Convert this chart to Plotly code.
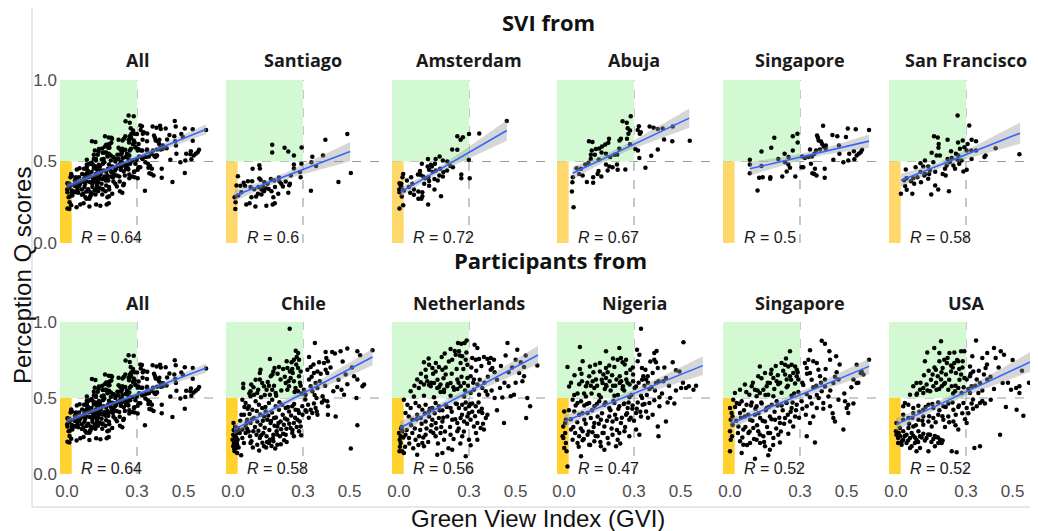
import numpy as np
import plotly.graph_objects as go

# target picture size and the page offset of the figure inside the browser page
W, H = 1038, 531
OFF = 8
FW, FH = W - OFF, H - OFF

# ---------------- data (GVI, perception Q score) ----------------
santiago = [(0.49,0.668),(0.396,0.633),(0.168,0.602),(0.168,0.555),(0.221,0.584),(0.237,0.561),(0.294,0.586),(0.261,0.537),(0.386,0.537),(0.34,0.529),(0.336,0.496),(0.356,0.473),(0.293,0.486),(0.505,0.43),(0.452,0.375),(0.334,0.32),(0.261,0.482),(0.261,0.457),(0.287,0.435),(0.29,0.404),(0.248,0.414),(0.244,0.363),(0.237,0.308),(0.084,0.455),(0.113,0.477),(0.115,0.457),(0.021,0.41),(0.064,0.379),(0.082,0.379),(0.046,0.369),(0.015,0.353),(0.032,0.351),(0.052,0.349),(0.113,0.396),(0.118,0.388),(0.134,0.373),(0.109,0.343),(0.122,0.328),(0.148,0.363),(0.162,0.392),(0.177,0.383),(0.18,0.343),(0.197,0.402),(0.207,0.363),(0.214,0.347),(0.194,0.302),(0.173,0.281),(0.179,0.244),(0.17,0.236),(0.143,0.228),(0.096,0.224),(0.057,0.236),(0.071,0.244),(0.079,0.281),(0.099,0.285),(0.107,0.302),(0.122,0.298),(0.133,0.318),(0.007,0.281),(0.011,0.25),(0.01,0.208),(0.023,0.292),(0.036,0.312),(0.153,0.332),(0.165,0.318),(0.141,0.336),(0.199,0.377),(0.226,0.377),(0.241,0.355),(0.13,0.343),(0.091,0.33),(0.075,0.343)]

amsterdam = [(0.462,0.749),(0.344,0.672),(0.3,0.668),(0.274,0.649),(0.264,0.633),(0.25,0.655),(0.228,0.574),(0.25,0.572),(0.299,0.51),(0.174,0.531),(0.157,0.516),(0.124,0.516),(0.154,0.486),(0.137,0.48),(0.123,0.469),(0.188,0.506),(0.207,0.5),(0.098,0.486),(0.09,0.441),(0.081,0.42),(0.092,0.418),(0.104,0.408),(0.112,0.398),(0.126,0.404),(0.145,0.435),(0.158,0.445),(0.176,0.455),(0.19,0.435),(0.206,0.445),(0.188,0.408),(0.173,0.414),(0.152,0.392),(0.166,0.383),(0.267,0.42),(0.267,0.398),(0.303,0.398),(0.129,0.381),(0.129,0.351),(0.108,0.363),(0.152,0.328),(0.18,0.287),(0.125,0.236),(0.1,0.312),(0.1,0.287),(0.083,0.316),(0.083,0.271),(0.096,0.271),(0.064,0.296),(0.048,0.308),(0.064,0.328),(0.042,0.343),(0.057,0.363),(0.034,0.383),(0.052,0.404),(0.018,0.424),(0.015,0.404),(0.002,0.367),(0.007,0.353),(0.01,0.343),(0.002,0.312),(0.012,0.285),(0.018,0.232),(0.002,0.212),(0.021,0.322),(0.001,0.328),(0.01,0.363),(0.22,0.473),(0.231,0.465),(0.129,0.449),(0.141,0.469)]

abuja = [(0.286,0.778),(0.251,0.747),(0.269,0.737),(0.273,0.704),(0.283,0.69),(0.276,0.67),(0.27,0.639),(0.244,0.639),(0.321,0.717),(0.329,0.68),(0.325,0.67),(0.316,0.694),(0.367,0.715),(0.384,0.707),(0.402,0.7),(0.423,0.702),(0.466,0.715),(0.429,0.635),(0.464,0.625),(0.539,0.627),(0.402,0.574),(0.374,0.535),(0.349,0.461),(0.323,0.522),(0.317,0.567),(0.306,0.576),(0.283,0.606),(0.238,0.629),(0.193,0.639),(0.19,0.615),(0.177,0.604),(0.163,0.592),(0.151,0.58),(0.161,0.555),(0.137,0.576),(0.119,0.567),(0.107,0.625),(0.122,0.619),(0.115,0.541),(0.132,0.541),(0.149,0.512),(0.18,0.547),(0.198,0.527),(0.216,0.541),(0.237,0.578),(0.228,0.543),(0.115,0.516),(0.105,0.492),(0.091,0.482),(0.073,0.455),(0.054,0.459),(0.065,0.424),(0.08,0.414),(0.038,0.404),(0.036,0.373),(0.034,0.316),(0.041,0.22),(0.098,0.375),(0.125,0.369),(0.125,0.404),(0.144,0.424),(0.16,0.408),(0.148,0.441),(0.18,0.482),(0.194,0.469),(0.208,0.465),(0.227,0.482),(0.23,0.449),(0.263,0.451),(0.187,0.445)]

singapore_svi = [(0.399,0.719),(0.505,0.702),(0.539,0.698),(0.596,0.694),(0.439,0.662),(0.46,0.655),(0.497,0.651),(0.373,0.66),(0.377,0.645),(0.38,0.629),(0.39,0.623),(0.395,0.608),(0.402,0.592),(0.411,0.598),(0.41,0.578),(0.386,0.574),(0.369,0.567),(0.343,0.574),(0.362,0.547),(0.351,0.531),(0.336,0.527),(0.321,0.522),(0.309,0.531),(0.29,0.617),(0.289,0.67),(0.269,0.655),(0.19,0.645),(0.177,0.584),(0.135,0.561),(0.269,0.567),(0.234,0.547),(0.251,0.527),(0.207,0.516),(0.085,0.51),(0.085,0.482),(0.085,0.428),(0.135,0.473),(0.236,0.496),(0.25,0.482),(0.257,0.461),(0.243,0.439),(0.224,0.408),(0.28,0.408),(0.307,0.465),(0.314,0.465),(0.347,0.486),(0.364,0.455),(0.353,0.428),(0.361,0.424),(0.371,0.414),(0.406,0.455),(0.406,0.4),(0.443,0.51),(0.469,0.547),(0.486,0.496),(0.507,0.506),(0.511,0.547),(0.531,0.563),(0.543,0.537),(0.533,0.514),(0.552,0.547),(0.566,0.572),(0.56,0.557),(0.467,0.598),(0.173,0.404),(0.172,0.394),(0.14,0.404),(0.125,0.4),(0.118,0.322)]

san_francisco = [(0.264,0.782),(0.314,0.721),(0.324,0.633),(0.343,0.625),(0.307,0.608),(0.427,0.582),(0.529,0.545),(0.221,0.633),(0.266,0.617),(0.286,0.629),(0.274,0.578),(0.293,0.588),(0.303,0.567),(0.323,0.567),(0.343,0.567),(0.163,0.655),(0.179,0.647),(0.183,0.608),(0.182,0.584),(0.188,0.537),(0.174,0.537),(0.153,0.553),(0.16,0.496),(0.236,0.563),(0.257,0.547),(0.267,0.537),(0.239,0.522),(0.221,0.516),(0.231,0.496),(0.217,0.475),(0.21,0.455),(0.246,0.475),(0.253,0.455),(0.271,0.486),(0.264,0.51),(0.281,0.506),(0.289,0.439),(0.303,0.449),(0.324,0.516),(0.379,0.527),(0.384,0.537),(0.124,0.506),(0.105,0.49),(0.084,0.465),(0.117,0.469),(0.138,0.469),(0.145,0.445),(0.168,0.437),(0.2,0.424),(0.213,0.414),(0.142,0.424),(0.124,0.424),(0.105,0.435),(0.092,0.404),(0.074,0.398),(0.064,0.379),(0.078,0.363),(0.042,0.451),(0.045,0.398),(0.035,0.385),(0.039,0.349),(0.046,0.326),(0.021,0.302),(0.07,0.302),(0.107,0.373),(0.138,0.394),(0.168,0.353),(0.181,0.328),(0.151,0.298),(0.227,0.318),(0.121,0.414)]

chile = [(0.243,0.956),(0.351,0.862),(0.49,0.825),(0.598,0.814),(0.397,0.803),(0.425,0.803),(0.437,0.792),(0.461,0.807),(0.533,0.807),(0.545,0.781),(0.326,0.77),(0.269,0.811),(0.279,0.796),(0.273,0.77),(0.261,0.752),(0.283,0.752),(0.158,0.757),(0.251,0.735),(0.23,0.741),(0.4,0.763),(0.407,0.741),(0.39,0.73),(0.369,0.735),(0.197,0.704),(0.178,0.697),(0.173,0.675),(0.169,0.654),(0.162,0.643),(0.118,0.686),(0.115,0.664),(0.233,0.697),(0.244,0.675),(0.254,0.691),(0.279,0.697),(0.29,0.675),(0.283,0.643),(0.319,0.686),(0.333,0.704),(0.347,0.664),(0.362,0.675),(0.376,0.66),(0.397,0.686),(0.404,0.664),(0.483,0.654),(0.519,0.643),(0.533,0.621),(0.562,0.588),(0.555,0.577),(0.447,0.572),(0.465,0.555),(0.476,0.522),(0.529,0.5),(0.533,0.32),(0.505,0.167),(0.044,0.594),(0.044,0.566),(0.078,0.588),(0.075,0.544),(0.115,0.621),(0.125,0.599),(0.133,0.577),(0.144,0.555),(0.104,0.533),(0.09,0.522),(0.075,0.511),(0.154,0.581),(0.168,0.555),(0.183,0.533),(0.158,0.522),(0.204,0.621),(0.226,0.599),(0.24,0.577),(0.233,0.555),(0.247,0.632),(0.261,0.61),(0.268,0.566),(0.279,0.544),(0.29,0.581),(0.304,0.555),(0.311,0.522),(0.326,0.621),(0.333,0.577),(0.34,0.544),(0.354,0.599),(0.362,0.566),(0.384,0.511),(0.39,0.485),(0.404,0.478),(0.407,0.445),(0.347,0.463),(0.354,0.434),(0.359,0.412),(0.362,0.39),(0.333,0.423),(0.34,0.401),(0.407,0.39),(0.44,0.379),(0.04,0.489),(0.054,0.467),(0.068,0.445),(0.083,0.423),(0.097,0.478),(0.111,0.456),(0.125,0.434),(0.14,0.412),(0.154,0.467),(0.168,0.489),(0.183,0.445),(0.197,0.423),(0.211,0.456),(0.226,0.434),(0.24,0.412),(0.254,0.445),(0.268,0.423),(0.283,0.401),(0.297,0.445),(0.311,0.419),(0.047,0.39),(0.061,0.357),(0.075,0.335),(0.09,0.368),(0.104,0.346),(0.118,0.324),(0.133,0.379),(0.147,0.357),(0.161,0.335),(0.176,0.368),(0.19,0.313),(0.204,0.346),(0.218,0.324),(0.233,0.357),(0.247,0.302),(0.261,0.335),(0.276,0.357),(0.29,0.313),(0.04,0.292),(0.054,0.27),(0.073,0.248),(0.087,0.281),(0.101,0.259),(0.115,0.237),(0.13,0.27),(0.144,0.248),(0.158,0.226),(0.173,0.259),(0.187,0.281),(0.201,0.248),(0.226,0.259),(0.254,0.27),(0.283,0.281),(0.075,0.204),(0.104,0.193),(0.133,0.182),(0.154,0.204),(0.173,0.215),(0.19,0.193),(0.23,0.211),(0.261,0.248),(0.001,0.259),(0.007,0.248),(0.015,0.237),(-0.002,0.226),(0.011,0.215),(0.004,0.2),(0.018,0.193),(0.001,0.182),(0.012,0.171),(0.007,0.149),(0.018,0.138),(0.035,0.123),(0.025,0.281),(0.021,0.302),(0.011,0.281),(0.029,0.27),(0.04,0.237),(0.047,0.204),(0.054,0.313),(0.061,0.296)]
chile += [(0.063,0.43),(0.071,0.395),(0.082,0.36),(0.094,0.31),(0.102,0.415),(0.109,0.285),(0.117,0.392),(0.121,0.255),(0.128,0.35),(0.136,0.305),(0.139,0.44),(0.146,0.21),(0.151,0.385),(0.156,0.29),(0.163,0.348),(0.167,0.405),(0.171,0.235),(0.178,0.318),(0.184,0.372),(0.189,0.26),(0.195,0.335),(0.199,0.472),(0.206,0.295),(0.213,0.39),(0.219,0.222),(0.223,0.365),(0.229,0.298),(0.236,0.44),(0.241,0.33),(0.249,0.385),(0.255,0.29),(0.262,0.46),(0.266,0.37),(0.273,0.31),(0.279,0.42),(0.286,0.345),(0.292,0.255),(0.298,0.39),(0.085,0.175),(0.112,0.155),(0.126,0.205),(0.142,0.175),(0.165,0.185),(0.181,0.168),(0.205,0.195),(0.215,0.265),(0.058,0.335),(0.067,0.28),(0.079,0.215),(0.036,0.39),(0.049,0.44),(0.031,0.35),(0.003,0.29),(0.009,0.31),(0.014,0.265),(0.02,0.225),(0.005,0.165),(0.016,0.205),(0.024,0.175),(0.002,0.335),(0.01,0.195),(0.07,0.53),(0.088,0.57),(0.097,0.62),(0.108,0.555),(0.136,0.52),(0.149,0.605),(0.176,0.58),(0.191,0.66),(0.207,0.55),(0.215,0.69),(0.222,0.64),(0.238,0.61),(0.256,0.665),(0.264,0.54),(0.271,0.72),(0.287,0.6),(0.294,0.53),(0.185,0.515),(0.12,0.505),(0.31,0.49),(0.322,0.455),(0.337,0.64),(0.345,0.72),(0.358,0.5),(0.372,0.61),(0.381,0.47),(0.395,0.58),(0.418,0.7),(0.43,0.545),(0.452,0.62),(0.47,0.74),(0.49,0.59),(0.51,0.7),(0.325,0.37),(0.315,0.41),(0.35,0.52)]

netherlands = [(0.29,0.879),(0.253,0.862),(0.267,0.857),(0.281,0.862),(0.324,0.851),(0.336,0.829),(0.465,0.862),(0.507,0.818),(0.457,0.779),(0.543,0.779),(0.593,0.713),(0.196,0.792),(0.221,0.822),(0.228,0.752),(0.243,0.785),(0.257,0.807),(0.271,0.774),(0.286,0.752),(0.264,0.73),(0.293,0.719),(0.314,0.763),(0.329,0.752),(0.343,0.757),(0.364,0.77),(0.379,0.757),(0.393,0.763),(0.407,0.752),(0.386,0.73),(0.4,0.697),(0.393,0.686),(0.41,0.669),(0.5,0.752),(0.522,0.735),(0.536,0.704),(0.515,0.664),(0.536,0.643),(0.529,0.61),(0.562,0.445),(0.545,0.368),(0.45,0.336),(0.469,0.577),(0.433,0.566),(0.443,0.504),(0.479,0.511),(0.493,0.522),(0.107,0.735),(0.114,0.686),(0.129,0.719),(0.143,0.697),(0.157,0.675),(0.171,0.704),(0.186,0.686),(0.2,0.654),(0.078,0.621),(0.093,0.603),(0.107,0.588),(0.121,0.61),(0.136,0.577),(0.15,0.599),(0.164,0.566),(0.178,0.588),(0.193,0.555),(0.207,0.577),(0.221,0.599),(0.236,0.555),(0.25,0.621),(0.264,0.577),(0.279,0.599),(0.293,0.632),(0.307,0.643),(0.321,0.621),(0.336,0.588),(0.357,0.566),(0.372,0.544),(0.379,0.522),(0.321,0.555),(0.307,0.533),(0.343,0.522),(0.05,0.545),(0.064,0.51),(0.085,0.565),(0.107,0.515),(0.129,0.585),(0.15,0.505),(0.171,0.57),(0.193,0.54),(0.221,0.515),(0.25,0.56),(0.279,0.51),(0.021,0.489),(0.036,0.456),(0.05,0.434),(0.071,0.467),(0.086,0.445),(0.1,0.423),(0.114,0.456),(0.129,0.412),(0.143,0.434),(0.157,0.467),(0.171,0.445),(0.186,0.419),(0.2,0.456),(0.221,0.434),(0.243,0.463),(0.257,0.434),(0.271,0.456),(0.286,0.471),(0.3,0.445),(0.314,0.463),(0.329,0.445),(0.343,0.412),(0.357,0.401),(0.379,0.39),(0.372,0.368),(0.028,0.401),(0.042,0.379),(0.057,0.357),(0.078,0.39),(0.093,0.368),(0.114,0.346),(0.129,0.379),(0.143,0.357),(0.157,0.335),(0.171,0.368),(0.186,0.346),(0.207,0.379),(0.228,0.357),(0.25,0.335),(0.264,0.368),(0.279,0.346),(0.293,0.379),(0.307,0.357),(0.321,0.313),(0.336,0.335),(0.014,0.281),(0.028,0.259),(0.043,0.237),(0.057,0.27),(0.071,0.226),(0.086,0.248),(0.1,0.204),(0.114,0.259),(0.136,0.281),(0.157,0.248),(0.178,0.27),(0.193,0.226),(0.221,0.259),(0.25,0.281),(0.271,0.248),(0.3,0.226),(0.307,0.189),(0.336,0.226),(0.35,0.302),(0.364,0.292),(0.007,0.204),(0.014,0.149),(0.021,0.138),(0.078,0.127),(0.107,0.182),(0.164,0.127),(0.186,0.138),(0.228,0.16),(0.286,0.116),(0.0,0.27),(0.007,0.248),(0.003,0.226)]
netherlands += [(0.012,0.31),(0.019,0.24),(0.026,0.18),(0.033,0.29),(0.044,0.2),(0.052,0.32),(0.061,0.17),(0.068,0.3),(0.075,0.36),(0.083,0.19),(0.091,0.29),(0.097,0.33),(0.104,0.24),(0.111,0.4),(0.118,0.3),(0.125,0.21),(0.132,0.43),(0.139,0.32),(0.147,0.27),(0.153,0.4),(0.16,0.3),(0.167,0.2),(0.174,0.42),(0.181,0.31),(0.19,0.37),(0.197,0.28),(0.205,0.44),(0.212,0.17),(0.219,0.31),(0.226,0.41),(0.234,0.23),(0.241,0.36),(0.248,0.46),(0.256,0.3),(0.263,0.2),(0.27,0.39),(0.278,0.28),(0.285,0.43),(0.292,0.33),(0.299,0.4),(0.305,0.46),(0.314,0.41),(0.326,0.38),(0.341,0.47),(0.355,0.43),(0.004,0.18),(0.009,0.3),(0.002,0.15),(0.116,0.64),(0.127,0.76),(0.138,0.6),(0.146,0.66),(0.158,0.73),(0.165,0.62),(0.178,0.54),(0.183,0.77),(0.191,0.63),(0.2,0.7),(0.208,0.59),(0.214,0.74),(0.226,0.66),(0.233,0.57),(0.239,0.81),(0.247,0.69),(0.255,0.6),(0.261,0.78),(0.268,0.64),(0.276,0.69),(0.283,0.55),(0.289,0.8),(0.296,0.58),(0.094,0.66),(0.066,0.58),(0.31,0.7),(0.318,0.6),(0.331,0.68),(0.346,0.62),(0.353,0.71),(0.366,0.6),(0.381,0.64),(0.397,0.55),(0.41,0.5),(0.42,0.62),(0.437,0.71),(0.452,0.6),(0.47,0.67),(0.485,0.7),(0.5,0.6),(0.55,0.5),(0.42,0.42),(0.36,0.33),(0.33,0.27)]

nigeria = [(0.33,0.956),(0.512,0.866),(0.068,0.836),(0.18,0.807),(0.237,0.829),(0.244,0.763),(0.23,0.752),(0.251,0.735),(0.266,0.752),(0.313,0.818),(0.323,0.785),(0.316,0.741),(0.334,0.697),(0.349,0.686),(0.352,0.621),(0.359,0.643),(0.34,0.643),(0.387,0.796),(0.397,0.809),(0.387,0.752),(0.394,0.735),(0.402,0.697),(0.38,0.664),(0.466,0.735),(0.48,0.682),(0.495,0.675),(0.437,0.632),(0.426,0.61),(0.394,0.599),(0.502,0.566),(0.523,0.566),(0.535,0.577),(0.555,0.555),(0.566,0.581),(0.015,0.704),(0.068,0.691),(0.08,0.741),(0.111,0.708),(0.134,0.719),(0.154,0.73),(0.18,0.697),(0.194,0.713),(0.216,0.704),(0.154,0.675),(0.169,0.654),(0.18,0.632),(0.137,0.621),(0.108,0.643),(0.123,0.61),(0.077,0.61),(0.094,0.577),(0.115,0.581),(0.165,0.599),(0.182,0.577),(0.196,0.61),(0.21,0.581),(0.225,0.621),(0.239,0.599),(0.253,0.577),(0.267,0.621),(0.281,0.588),(0.296,0.61),(0.303,0.566),(0.239,0.643),(0.267,0.664),(0.296,0.654),(0.284,0.686),(0.022,0.575),(0.044,0.52),(0.065,0.59),(0.094,0.51),(0.13,0.565),(0.158,0.505),(0.18,0.585),(0.216,0.515),(0.251,0.56),(0.28,0.505),(0.309,0.575),(0.33,0.515),(0.366,0.56),(0.409,0.505),(0.037,0.489),(0.058,0.467),(0.073,0.478),(0.087,0.45),(0.108,0.467),(0.13,0.445),(0.151,0.478),(0.173,0.456),(0.194,0.434),(0.216,0.467),(0.237,0.445),(0.259,0.463),(0.273,0.434),(0.294,0.45),(0.316,0.471),(0.337,0.456),(0.366,0.467),(0.387,0.485),(0.409,0.445),(0.444,0.471),(0.473,0.463),(0.044,0.412),(0.065,0.39),(0.087,0.357),(0.101,0.401),(0.115,0.368),(0.13,0.335),(0.144,0.379),(0.158,0.357),(0.173,0.313),(0.194,0.379),(0.208,0.346),(0.225,0.362),(0.244,0.335),(0.266,0.39),(0.28,0.357),(0.309,0.401),(0.33,0.379),(0.352,0.412),(0.38,0.39),(0.402,0.313),(0.437,0.346),(0.405,0.248),(0.03,0.292),(0.048,0.27),(0.065,0.248),(0.08,0.281),(0.101,0.259),(0.122,0.274),(0.144,0.248),(0.165,0.27),(0.187,0.237),(0.208,0.259),(0.237,0.27),(0.259,0.281),(0.28,0.248),(0.309,0.292),(0.323,0.259),(0.037,0.226),(0.058,0.204),(0.08,0.222),(0.108,0.193),(0.13,0.215),(0.158,0.182),(0.173,0.16),(0.223,0.182),(0.23,0.226),(0.073,0.116),(0.015,0.05),(0.001,0.412),(0.008,0.357),(-0.003,0.313),(0.005,0.27),(-0.003,0.237),(0.008,0.204),(0.001,0.171),(0.011,0.149),(-0.006,0.248),(0.005,0.335)]
nigeria += [(0.021,0.42),(0.029,0.36),(0.04,0.31),(0.05,0.45),(0.057,0.34),(0.063,0.18),(0.072,0.3),(0.079,0.4),(0.085,0.23),(0.093,0.33),(0.099,0.46),(0.106,0.28),(0.112,0.19),(0.12,0.42),(0.127,0.31),(0.135,0.25),(0.141,0.46),(0.149,0.33),(0.156,0.21),(0.163,0.4),(0.17,0.27),(0.178,0.47),(0.184,0.35),(0.191,0.2),(0.199,0.42),(0.204,0.3),(0.212,0.48),(0.219,0.39),(0.227,0.29),(0.233,0.43),(0.241,0.2),(0.248,0.37),(0.256,0.46),(0.262,0.31),(0.27,0.4),(0.277,0.47),(0.286,0.37),(0.293,0.43),(0.3,0.35),(0.312,0.43),(0.327,0.41),(0.345,0.46),(0.36,0.37),(0.03,0.6),(0.045,0.65),(0.058,0.53),(0.075,0.66),(0.086,0.53),(0.1,0.6),(0.118,0.53),(0.126,0.67),(0.142,0.58),(0.15,0.52),(0.162,0.62),(0.175,0.56),(0.187,0.67),(0.2,0.55),(0.206,0.65),(0.22,0.58),(0.231,0.52),(0.245,0.61),(0.258,0.55),(0.272,0.6),(0.289,0.52),(0.295,0.7),(0.26,0.72),(0.21,0.76),(0.32,0.6),(0.335,0.62),(0.345,0.58),(0.36,0.6),(0.375,0.57),(0.39,0.55),(0.405,0.61),(0.42,0.53),(0.45,0.58),(0.48,0.55),(0.51,0.6),(0.335,0.5),(0.355,0.52),(0.37,0.74),(0.43,0.7),(0.455,0.5)]

singapore_part = [(0.393,0.877),(0.407,0.857),(0.343,0.814),(0.257,0.807),(0.426,0.807),(0.455,0.774),(0.429,0.752),(0.596,0.752),(0.543,0.719),(0.56,0.664),(0.529,0.621),(0.543,0.599),(0.572,0.654),(0.564,0.675),(0.457,0.669),(0.465,0.621),(0.443,0.599),(0.407,0.621),(0.386,0.643),(0.379,0.686),(0.372,0.73),(0.357,0.741),(0.336,0.752),(0.321,0.73),(0.329,0.697),(0.343,0.664),(0.128,0.708),(0.15,0.664),(0.121,0.643),(0.178,0.686),(0.186,0.632),(0.2,0.61),(0.171,0.599),(0.157,0.577),(0.143,0.555),(0.128,0.533),(0.221,0.73),(0.236,0.719),(0.25,0.708),(0.264,0.719),(0.279,0.708),(0.286,0.686),(0.271,0.664),(0.257,0.643),(0.243,0.621),(0.236,0.654),(0.286,0.643),(0.293,0.621),(0.064,0.588),(0.093,0.577),(0.107,0.555),(0.083,0.522),(0.021,0.533),(0.043,0.555),(0.207,0.59),(0.221,0.535),(0.243,0.57),(0.264,0.515),(0.279,0.595),(0.293,0.54),(0.314,0.585),(0.329,0.525),(0.343,0.505),(0.357,0.57),(0.372,0.52),(0.393,0.545),(0.407,0.575),(0.422,0.51),(0.164,0.522),(0.186,0.511),(0.114,0.511),(0.014,0.489),(0.029,0.467),(0.05,0.478),(0.071,0.456),(0.093,0.471),(0.114,0.445),(0.136,0.463),(0.157,0.434),(0.179,0.456),(0.2,0.478),(0.221,0.45),(0.243,0.467),(0.264,0.434),(0.286,0.456),(0.307,0.478),(0.329,0.445),(0.35,0.463),(0.372,0.434),(0.4,0.467),(0.429,0.445),(0.465,0.489),(0.493,0.478),(0.507,0.456),(0.529,0.463),(0.043,0.401),(0.064,0.379),(0.086,0.357),(0.107,0.39),(0.129,0.368),(0.15,0.346),(0.171,0.379),(0.193,0.357),(0.214,0.335),(0.236,0.368),(0.257,0.346),(0.279,0.379),(0.343,0.335),(0.357,0.379),(0.443,0.368),(0.45,0.346),(0.486,0.292),(0.5,0.434),(0.507,0.401),(0.036,0.313),(0.057,0.292),(0.079,0.27),(0.1,0.302),(0.121,0.281),(0.143,0.248),(0.164,0.27),(0.186,0.237),(0.207,0.259),(0.25,0.265),(0.271,0.313),(0.329,0.248),(0.043,0.215),(0.057,0.193),(0.086,0.204),(0.114,0.226),(0.129,0.204),(0.15,0.182),(0.171,0.16),(0.214,0.208),(0.164,0.123),(0.05,0.138),(0.107,0.101),(0.364,0.208),(0.0,0.434),(0.007,0.401),(0.003,0.357),(0.011,0.324),(0.0,0.281),(0.009,0.248),(0.003,0.226),(0.0,0.149),(0.011,0.379)]
singapore_part += [(0.022,0.44),(0.027,0.35),(0.034,0.27),(0.04,0.46),(0.047,0.37),(0.053,0.24),(0.06,0.42),(0.066,0.31),(0.073,0.19),(0.078,0.39),(0.084,0.28),(0.09,0.45),(0.096,0.35),(0.103,0.23),(0.109,0.43),(0.116,0.32),(0.122,0.4),(0.128,0.26),(0.134,0.47),(0.14,0.35),(0.146,0.21),(0.153,0.42),(0.159,0.31),(0.166,0.44),(0.172,0.27),(0.178,0.36),(0.185,0.19),(0.191,0.41),(0.198,0.3),(0.204,0.45),(0.211,0.37),(0.218,0.28),(0.226,0.42),(0.232,0.33),(0.24,0.47),(0.248,0.39),(0.26,0.41),(0.268,0.47),(0.283,0.42),(0.296,0.37),(0.31,0.43),(0.325,0.39),(0.07,0.54),(0.098,0.6),(0.118,0.55),(0.135,0.63),(0.152,0.52),(0.162,0.6),(0.175,0.66),(0.19,0.56),(0.205,0.65),(0.215,0.6),(0.228,0.68),(0.248,0.58),(0.262,0.62),(0.275,0.53),(0.29,0.67),(0.196,0.71),(0.24,0.76),(0.31,0.6),(0.33,0.66),(0.35,0.62),(0.37,0.58),(0.39,0.6),(0.41,0.69),(0.43,0.55),(0.45,0.64),(0.47,0.72),(0.49,0.53),(0.52,0.57),(0.55,0.6),(0.4,0.43),(0.44,0.4),(0.38,0.5)]

usa = [(0.193,0.873),(0.343,0.879),(0.164,0.829),(0.186,0.796),(0.134,0.8),(0.124,0.741),(0.229,0.796),(0.25,0.8),(0.279,0.807),(0.293,0.807),(0.267,0.741),(0.271,0.691),(0.286,0.741),(0.25,0.73),(0.236,0.713),(0.221,0.763),(0.207,0.752),(0.186,0.741),(0.2,0.697),(0.171,0.686),(0.157,0.654),(0.179,0.643),(0.193,0.621),(0.214,0.654),(0.236,0.675),(0.257,0.664),(0.279,0.654),(0.293,0.632),(0.327,0.774),(0.37,0.763),(0.391,0.796),(0.42,0.829),(0.449,0.807),(0.463,0.785),(0.427,0.763),(0.384,0.697),(0.377,0.654),(0.391,0.621),(0.457,0.599),(0.493,0.555),(0.515,0.566),(0.529,0.577),(0.529,0.533),(0.586,0.537),(0.317,0.708),(0.331,0.675),(0.317,0.643),(0.303,0.621),(0.346,0.621),(0.36,0.599),(0.324,0.577),(0.317,0.533),(0.353,0.533),(0.074,0.577),(0.088,0.599),(0.103,0.555),(0.117,0.566),(0.131,0.588),(0.146,0.544),(0.16,0.577),(0.174,0.555),(0.196,0.577),(0.21,0.599),(0.224,0.555),(0.239,0.577),(0.253,0.544),(0.267,0.566),(0.281,0.533),(0.117,0.533),(0.088,0.522),(0.038,0.467),(0.06,0.522),(0.031,0.445),(0.053,0.456),(0.074,0.434),(0.096,0.449),(0.117,0.423),(0.139,0.456),(0.16,0.434),(0.181,0.471),(0.203,0.445),(0.224,0.463),(0.246,0.423),(0.267,0.441),(0.289,0.467),(0.303,0.434),(0.324,0.463),(0.346,0.445),(0.36,0.467),(0.381,0.463),(0.406,0.489),(0.471,0.441),(0.517,0.423),(0.546,0.384),(0.446,0.259),(0.36,0.182),(0.336,0.171),(0.031,0.39),(0.053,0.368),(0.074,0.401),(0.096,0.357),(0.117,0.379),(0.139,0.346),(0.16,0.368),(0.181,0.39),(0.203,0.357),(0.224,0.379),(0.246,0.346),(0.267,0.292),(0.303,0.335),(0.117,0.324),(0.153,0.313),(0.031,0.357),(0.002,0.259),(0.009,0.237),(0.019,0.248),(0.031,0.226),(0.045,0.259),(0.06,0.237),(0.074,0.252),(0.088,0.226),(0.103,0.248),(0.117,0.265),(0.131,0.237),(0.146,0.259),(0.16,0.23),(0.174,0.244),(0.189,0.226),(0.196,0.204),(0.181,0.204),(0.167,0.182),(0.009,0.204),(0.024,0.193),(0.045,0.204),(0.067,0.182),(0.088,0.149),(0.103,0.171),(0.139,0.149),(0.239,0.149),(0.26,0.143),(0.06,0.171),(0.081,0.204),(0.002,0.335),(0.017,0.302),(0.031,0.281),(0.053,0.302),(0.074,0.313),(0.096,0.281),(0.0,0.281)]
usa += [(0.012,0.27),(0.025,0.215),(0.038,0.25),(0.052,0.22),(0.067,0.27),(0.081,0.24),(0.095,0.21),(0.11,0.24),(0.124,0.22),(0.138,0.26),(0.152,0.21),(0.166,0.25),(0.18,0.24),(0.2,0.22),(0.056,0.33),(0.07,0.37),(0.085,0.32),(0.1,0.41),(0.113,0.35),(0.127,0.44),(0.142,0.38),(0.156,0.46),(0.17,0.34),(0.186,0.42),(0.199,0.38),(0.213,0.44),(0.228,0.34),(0.242,0.47),(0.256,0.39),(0.27,0.45),(0.284,0.4),(0.296,0.36),(0.21,0.31),(0.255,0.32),(0.31,0.4),(0.33,0.43),(0.09,0.53),(0.105,0.6),(0.12,0.65),(0.135,0.55),(0.15,0.62),(0.165,0.7),(0.172,0.6),(0.185,0.56),(0.195,0.67),(0.205,0.59),(0.218,0.73),(0.228,0.62),(0.243,0.7),(0.255,0.58),(0.262,0.75),(0.272,0.62),(0.285,0.7),(0.29,0.57),(0.245,0.53),(0.14,0.68),(0.31,0.56),(0.32,0.66),(0.34,0.58),(0.355,0.68),(0.37,0.55),(0.39,0.72),(0.405,0.64),(0.42,0.56),(0.44,0.7),(0.48,0.6),(0.5,0.75),(0.54,0.68),(0.57,0.6),(0.33,0.49),(0.37,0.48)]

all_svi = santiago + amsterdam + abuja + singapore_svi + san_francisco

# fitted linear trend: (x start, y start, x end, y end)
fit_top = [(0.0, 0.349, 0.596, 0.698), (0.007, 0.291, 0.502, 0.561), (0.007, 0.312, 0.462, 0.69),
           (0.037, 0.428, 0.537, 0.766), (0.085, 0.455, 0.596, 0.625), (0.021, 0.383, 0.532, 0.674)]
fit_bottom = [(0.0, 0.351, 0.596, 0.697), (0.004, 0.292, 0.598, 0.77), (0.004, 0.303, 0.596, 0.783),
              (0.001, 0.346, 0.595, 0.713), (0.002, 0.331, 0.596, 0.708), (0.0, 0.325, 0.596, 0.752)]

top_titles = ["All", "Santiago", "Amsterdam", "Abuja", "Singapore", "San Francisco"]
bottom_titles = ["All", "Chile", "Netherlands", "Nigeria", "Singapore", "USA"]
top_r = ["0.64", "0.6", "0.72", "0.67", "0.5", "0.58"]
bottom_r = ["0.64", "0.58", "0.56", "0.47", "0.52", "0.52"]
y_tick_vals = [0.0, 0.5, 1.0]
y_tick_text = ["0.0", "0.5", "1.0"]
x_tick_vals = [0.0, 0.3, 0.5]
x_tick_text = ["0.0", "0.3", "0.5"]
gvi_threshold = 0.3
q_threshold = 0.5
low_gvi = 0.02

panels = [all_svi, santiago, amsterdam, abuja, singapore_svi, san_francisco,
          all_svi, chile, netherlands, nigeria, singapore_part, usa]
fits = fit_top + fit_bottom
titles = top_titles + bottom_titles
rvals = top_r + bottom_r


def px(X):
    return (X - OFF) / FW


def py(Y):
    return 1 - (Y - OFF) / FH


# ---------------- layout geometry (pixel positions in the target picture) ----------------
lefts = [60, 226, 392, 557, 723, 889]
PXU = 233.3
XMIN, XMAX = -0.03, 0.63
rows_px = [(80, 243), (322, 474)]

fig = go.Figure()
layout = dict(width=FW, height=FH, margin=dict(l=0, r=0, t=0, b=0, pad=0, autoexpand=False),
              autosize=False, paper_bgcolor="white", plot_bgcolor="white", showlegend=False)
shapes, annotations = [], []

TICKFONT = dict(family="Liberation Sans, Arial, sans-serif", size=17, color="#4d4d4d")
TITLEFONT = "Open Sans, Lato, sans-serif"

for i, data in enumerate(panels):
    r, c = divmod(i, 6)
    n = i + 1
    xa = "x" if n == 1 else f"x{n}"
    ya = "y" if n == 1 else f"y{n}"
    left = lefts[c]
    right = min(left + (XMAX - XMIN) * PXU, W)
    xmax = XMIN + (right - left) / PXU
    top, bot = rows_px[r]
    layout["xaxis" if n == 1 else f"xaxis{n}"] = dict(
        domain=[px(left), px(right)], range=[XMIN, xmax], anchor=ya, automargin=False,
        showgrid=False, zeroline=False, showline=False, ticks="",
        showticklabels=(r == 1), tickvals=x_tick_vals, ticktext=x_tick_text,
        tickfont=TICKFONT, ticklabelstandoff=5, fixedrange=True)
    layout["yaxis" if n == 1 else f"yaxis{n}"] = dict(
        domain=[py(bot), py(top)], range=[0, 1], anchor=xa, automargin=False,
        showgrid=False, zeroline=False, showline=False, ticks="",
        showticklabels=(c == 0), tickvals=y_tick_vals, ticktext=y_tick_text,
        tickfont=TICKFONT, ticklabelstandoff=2, fixedrange=True)

    city_panel = (r == 0 and c > 0)
    orange = "#FFD86C" if city_panel else "#FFD22E"
    shapes += [
        dict(type="rect", xref=xa, yref=ya, x0=XMIN, x1=gvi_threshold, y0=q_threshold, y1=1,
             fillcolor="#D3F9D3", line=dict(width=0), layer="below"),
        dict(type="rect", xref=xa, yref=ya, x0=XMIN, x1=low_gvi, y0=0, y1=q_threshold,
             fillcolor=orange, line=dict(width=0), layer="below"),
        dict(type="line", xref=xa, yref=f"{ya} domain", x0=gvi_threshold, x1=gvi_threshold, y0=0, y1=1,
             line=dict(color="#999999", width=1.1, dash="dash"), layer="below"),
        dict(type="line", xref=f"{xa} domain", yref=ya, x0=0, x1=1, y0=q_threshold, y1=q_threshold,
             line=dict(color="#999999", width=1.1, dash="dash"), layer="below"),
    ]

    xs = np.array([p[0] for p in data])
    ys = np.array([p[1] for p in data])
    fig.add_trace(go.Scatter(x=xs, y=ys, mode="markers", xaxis=xa, yaxis=ya,
                             marker=dict(size=4.5, color="black", line=dict(width=0)),
                             hoverinfo="skip"))
    # trend line with 95% confidence band (band shape from the residual spread of the points)
    fx0, fy0, fx1, fy1 = fits[i]
    slope = (fy1 - fy0) / (fx1 - fx0)
    xg = np.linspace(fx0, fx1, 80)
    yh = fy0 + slope * (xg - fx0)
    nn = len(xs)
    res = ys - (fy0 + slope * (xs - fx0))
    s = np.sqrt(np.sum((res - res.mean()) ** 2) / (nn - 2))
    sxx = np.sum((xs - xs.mean()) ** 2)
    se = s * np.sqrt(1.0 / nn + (xg - xs.mean()) ** 2 / sxx)
    up, lo = yh + 1.97 * se, yh - 1.97 * se
    fig.add_trace(go.Scatter(x=np.concatenate([xg, xg[::-1]]), y=np.concatenate([up, lo[::-1]]),
                             mode="lines", fill="toself", fillcolor="rgba(153,153,153,0.4)",
                             line=dict(width=0), xaxis=xa, yaxis=ya, hoverinfo="skip"))
    fig.add_trace(go.Scatter(x=xg, y=yh, mode="lines", line=dict(color="#3366FF", width=1.6),
                             xaxis=xa, yaxis=ya, hoverinfo="skip"))

    annotations.append(dict(text=f"<i>R</i> = {rvals[i]}", xref=xa, yref=ya, x=0.05, y=0.035,
                            xanchor="left", yanchor="middle", showarrow=False,
                            font=dict(family="Liberation Sans, Arial, sans-serif", size=16, color="#1a1a1a")))
    annotations.append(dict(text=f"<b>{titles[i]}</b>", xref="paper", yref="paper",
                            x=px(left + 77), y=py(60 if r == 0 else 303),
                            xanchor="center", yanchor="middle", showarrow=False,
                            font=dict(family=TITLEFONT, size=18, color="#1a1a1a")))

annotations += [
    dict(text="<b>SVI from</b>", xref="paper", yref="paper", x=px(548), y=py(22),
         xanchor="center", yanchor="middle", showarrow=False,
         font=dict(family=TITLEFONT, size=22, color="#111")),
    dict(text="<b>Participants from</b>", xref="paper", yref="paper", x=px(550), y=py(260),
         xanchor="center", yanchor="middle", showarrow=False,
         font=dict(family=TITLEFONT, size=22, color="#111")),
    dict(text="Perception Q scores", xref="paper", yref="paper", x=px(22), y=py(276),
         xanchor="center", yanchor="middle", textangle=-90, showarrow=False,
         font=dict(family="Liberation Sans, Arial, sans-serif", size=24, color="#111")),
    dict(text="Green View Index (GVI)", xref="paper", yref="paper", x=px(538), y=py(518),
         xanchor="center", yanchor="middle", showarrow=False,
         font=dict(family="Liberation Sans, Arial, sans-serif", size=24, color="#111")),
]
shapes += [
    dict(type="line", xref="paper", yref="paper", x0=px(32), x1=px(32), y0=py(507), y1=1,
         line=dict(color="#d0d0d0", width=1)),
    dict(type="line", xref="paper", yref="paper", x0=px(32), x1=1, y0=py(507), y1=py(507),
         line=dict(color="#d0d0d0", width=1)),
]
layout["shapes"] = shapes
layout["annotations"] = annotations
fig.update_layout(**layout)
fig.write_html("out.html")
